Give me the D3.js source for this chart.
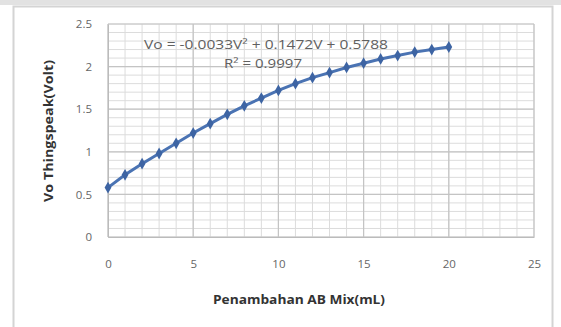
<!DOCTYPE html>
<html>
<head>
<meta charset="utf-8">
<script src="https://cdn.jsdelivr.net/npm/d3@7"></script>
<style>
  body { margin: 0; background: #fff; }
  svg { display: block; font-family: "Open Sans", "DejaVu Sans", sans-serif; }
</style>
</head>
<body>
<div id="chart"></div>
<script>
// data
var abMix = [0, 1, 2, 3, 4, 5, 6, 7, 8, 9, 10, 11, 12, 13, 14, 15, 16, 17, 18, 19, 20];
var voltage = [0.58, 0.73, 0.86, 0.98, 1.10, 1.22, 1.33, 1.44, 1.54, 1.63, 1.72, 1.80, 1.87, 1.93, 1.99, 2.04, 2.09, 2.13, 2.17, 2.20, 2.23];
var xTicks = [0, 5, 10, 15, 20, 25];
var yTicks = [0, 0.5, 1, 1.5, 2, 2.5];
var equation = "Vo = -0.0033V\u00b2 + 0.1472V + 0.5788";
var rSquared = "R\u00b2 = 0.9997";

let width = 561, height = 327;
let plotL = 108, plotR = 534, plotT = 24, plotB = 237;

let svg = d3.select("#chart").append("svg")
    .attr("width", width)
    .attr("height", height);

// outer frame of the chart
svg.append("rect").attr("x", 0).attr("y", 0).attr("width", width).attr("height", 5).attr("fill", "#e2e2e2");
svg.append("rect")
    .attr("x", 13.5).attr("y", 6.5)
    .attr("width", 539).attr("height", 330)
    .attr("fill", "#fff")
    .attr("stroke", "#d4d4d4")
    .attr("stroke-width", 2);

let x = d3.scaleLinear().domain([0, 25]).range([plotL, plotR]);
let y = d3.scaleLinear().domain([0, 2.5]).range([plotB, plotT]);

// minor grid
let grid = svg.append("g");
grid.selectAll("line.hm").data(d3.range(0, 2.51, 0.1)).enter()
    .append("line")
    .attr("x1", plotL).attr("x2", plotR)
    .attr("y1", d => y(d)).attr("y2", d => y(d))
    .attr("stroke", "#dcdcdc").attr("stroke-width", 1);
grid.selectAll("line.vm").data(d3.range(0, 26, 1)).enter()
    .append("line")
    .attr("x1", d => x(d)).attr("x2", d => x(d))
    .attr("y1", plotT).attr("y2", plotB)
    .attr("stroke", "#dcdcdc").attr("stroke-width", 1);
// major grid
grid.selectAll("line.hM").data(yTicks).enter()
    .append("line")
    .attr("x1", plotL).attr("x2", plotR)
    .attr("y1", d => y(d)).attr("y2", d => y(d))
    .attr("stroke", "#c4c4c4").attr("stroke-width", 1.2);
grid.selectAll("line.vM").data(xTicks).enter()
    .append("line")
    .attr("x1", d => x(d)).attr("x2", d => x(d))
    .attr("y1", plotT).attr("y2", plotB)
    .attr("stroke", "#c4c4c4").attr("stroke-width", 1.2);

// axes
let xAxis = d3.axisBottom(x).tickValues(xTicks).tickSize(0).tickPadding(23);
let yAxis = d3.axisLeft(y).tickValues(yTicks).tickFormat(d => d).tickSize(0).tickPadding(16);

svg.append("g")
    .attr("transform", "translate(0," + plotB + ")")
    .call(xAxis)
    .call(g => g.select(".domain").attr("stroke", "#bbb"))
    .selectAll("text").attr("font-size", 11.5).attr("fill", "#666").attr("font-family", "Open Sans, sans-serif");
svg.append("g")
    .attr("transform", "translate(" + plotL + ",0)")
    .call(yAxis)
    .call(g => g.select(".domain").attr("stroke", "#bbb"))
    .selectAll("text").attr("font-size", 11.5).attr("fill", "#666").attr("font-family", "Open Sans, sans-serif");

// series
let pts = abMix.map((d, i) => [d, voltage[i]]);
svg.append("path")
    .datum(pts)
    .attr("fill", "none")
    .attr("stroke", "#4a73b3")
    .attr("stroke-width", 3)
    .attr("d", d3.line().x(d => x(d[0])).y(d => y(d[1])));
svg.selectAll("path.pt").data(pts).enter()
    .append("path")
    .attr("transform", d => "translate(" + x(d[0]) + "," + y(d[1]) + ")")
    .attr("d", d3.symbol(d3.symbolDiamond, 40))
    .attr("fill", "#3d64a3");

// trendline labels
svg.append("text")
    .attr("x", 266).attr("y", 49)
    .attr("text-anchor", "middle")
    .attr("font-size", 12).attr("textLength", 244).attr("lengthAdjust", "spacingAndGlyphs").attr("fill", "#606060")
    .text(equation);
svg.append("text")
    .attr("x", 263).attr("y", 68)
    .attr("text-anchor", "middle")
    .attr("font-size", 12).attr("textLength", 78).attr("lengthAdjust", "spacingAndGlyphs").attr("fill", "#606060")
    .text(rSquared);

// axis titles
svg.append("text")
    .attr("x", 299).attr("y", 304)
    .attr("text-anchor", "middle")
    .attr("font-size", 12.5).attr("textLength", 172).attr("lengthAdjust", "spacingAndGlyphs").attr("font-weight", "bold").attr("fill", "#333")
    .text("Penambahan AB Mix(mL)");
svg.append("text")
    .attr("transform", "translate(53,131) rotate(-90)")
    .attr("text-anchor", "middle")
    .attr("font-size", 12.5).attr("textLength", 142).attr("lengthAdjust", "spacingAndGlyphs").attr("font-weight", "bold").attr("fill", "#333")
    .text("Vo Thingspeak(Volt)");
</script>
</body>
</html>
